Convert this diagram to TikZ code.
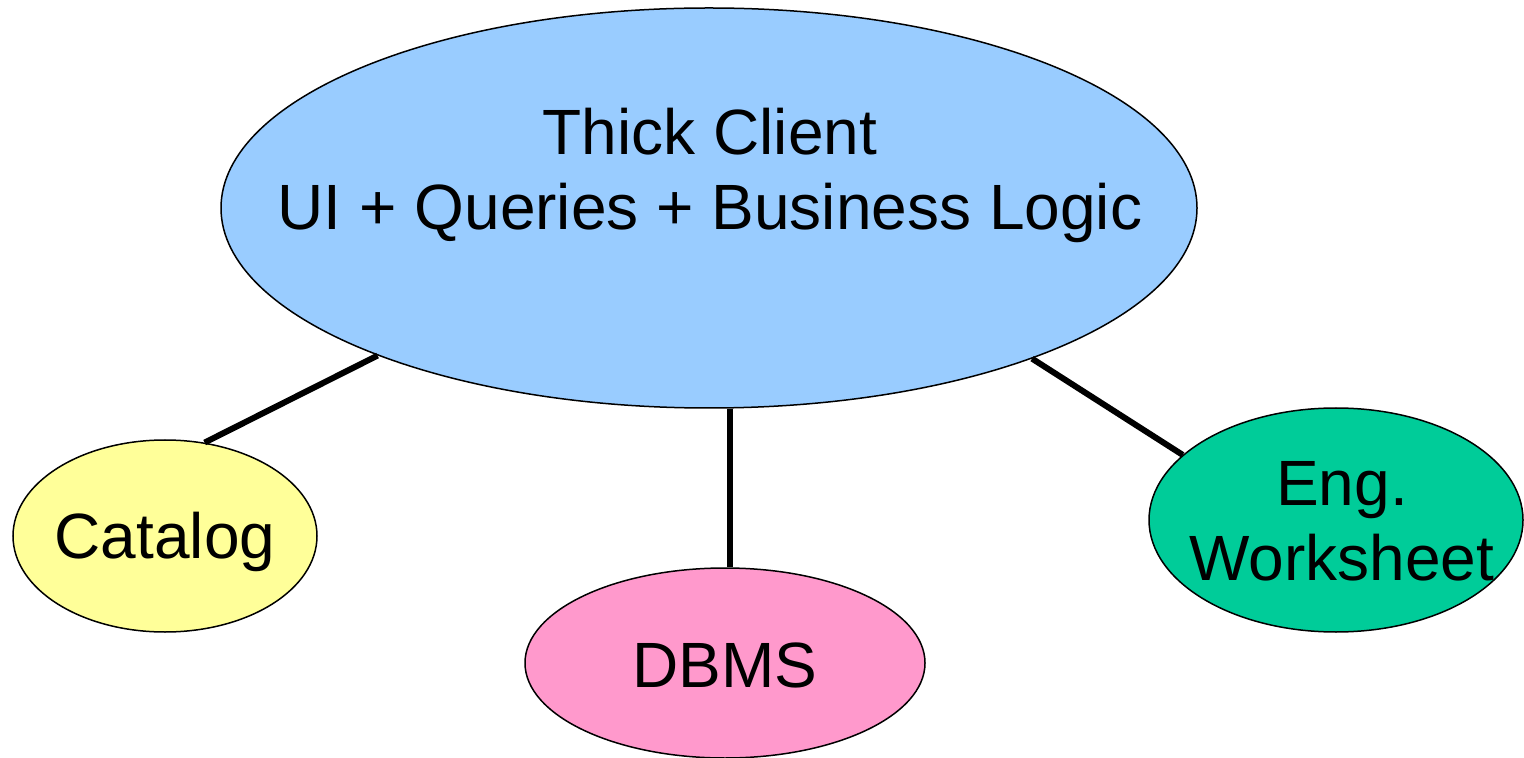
\documentclass[tikz,border=0pt]{standalone}
\usepackage{fontspec}
\setmainfont{Liberation Sans}
\usetikzlibrary{shapes.geometric}
\tikzset{
  bubble/.style={ellipse, draw=black, line width=0.75pt, inner sep=0pt},
  label text/.style={font=\fontsize{32pt}{37.5pt}\selectfont, align=center, anchor=base, inner sep=0pt},
  link/.style={line width=3pt, line cap=butt},
}
\definecolor{clientblue}{HTML}{99CCFF}
\definecolor{catyellow}{HTML}{FFFF99}
\definecolor{dbpink}{HTML}{FF99CC}
\definecolor{enggreen}{HTML}{00CC99}
\begin{document}
\begin{tikzpicture}[x=0.5pt, y=-0.5pt]
  \useasboundingbox (0,0) rectangle (1524,758);

  % bubbles
  \node[bubble, fill=clientblue, minimum width=488pt, minimum height=200pt] (main) at (709,208) {};
  \node[bubble, fill=catyellow, minimum width=152pt, minimum height=96pt] (cat) at (165,536) {};
  \node[bubble, fill=dbpink, minimum width=200pt, minimum height=95pt] (dbms) at (725,663) {};
  \node[bubble, fill=enggreen, minimum width=187pt, minimum height=112pt] (eng) at (1336,520) {};

  % captions (anchored at the baseline of their last line)
  \node[label text] (mainlbl) at (710,230) {Thick Client\\UI + Queries + Business Logic};
  \node[label text] (catlbl) at (165,558) {Catalog};
  \node[label text] (dblbl) at (725,687) {DBMS};
  \node[label text] (englbl) at (1342,580) {Eng.\\Worksheet};

  % connectors
  \draw[link] (main.204.5) -- (cat.67);
  \draw[link] (main.276.8) -- (main.276.8 |- dbms.north);
  \draw[link] (main.335.4) -- (eng.157.6);
\end{tikzpicture}
\end{document}
